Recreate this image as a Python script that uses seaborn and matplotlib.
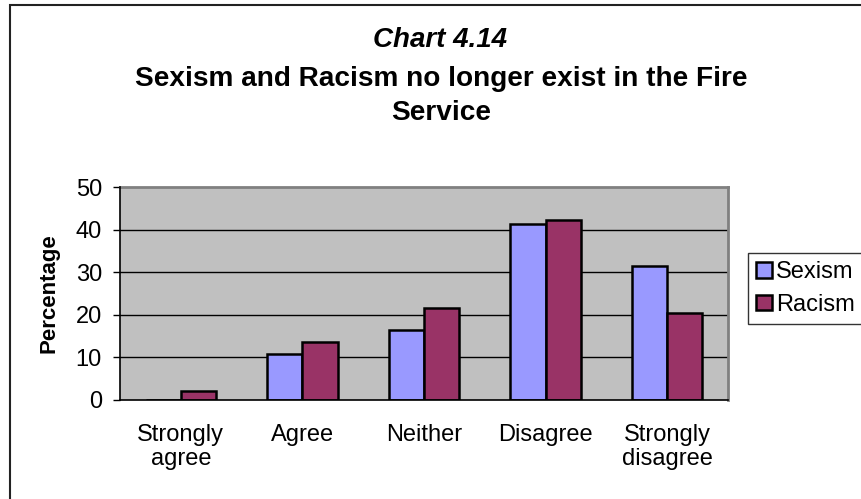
import matplotlib
matplotlib.use("Agg")
import matplotlib.pyplot as plt
import seaborn as sns
import pandas as pd
from matplotlib.patches import Rectangle, Patch

# Survey responses (percentage of respondents)
categories = ["Strongly\nagree", "Agree", "Neither", "Disagree", "Strongly\ndisagree"]
sexism = [0.0, 10.7, 16.5, 41.3, 31.4]
racism = [2.0, 13.6, 21.6, 42.3, 20.5]
series_names = ["Sexism", "Racism"]
series_colors = ["#9999FF", "#993366"]
y_ticks = [0, 10, 20, 30, 40, 50]

df = pd.DataFrame({
    "Response": categories * 2,
    "Percentage": sexism + racism,
    "Series": [series_names[0]] * len(categories) + [series_names[1]] * len(categories),
})

sns.set_theme(style="white")
plt.rcParams["font.family"] = ["Liberation Sans", "DejaVu Sans"]
plt.rcParams.update({"text.color": "black", "axes.labelcolor": "black",
                     "xtick.color": "black", "ytick.color": "black"})

W, H = 862, 499
fig = plt.figure(figsize=(W / 100, H / 100), dpi=100)
fig.patch.set_facecolor("white")

# outer chart frame
fig.patches.append(Rectangle((10 / W, -0.1), 1.2, 1.1 - 5 / H, transform=fig.transFigure,
                             fill=False, edgecolor="#222222", linewidth=1.5))

left, right, bottom, top = 120 / W, 728 / W, 1 - 400 / H, 1 - 187 / H
ax = fig.add_axes([left, bottom, right - left, top - bottom])
ax.set_facecolor("#C0C0C0")

sns.barplot(data=df, x="Response", y="Percentage", hue="Series",
            palette=series_colors, width=0.58, gap=0, edgecolor="black",
            linewidth=1.8, saturation=1, ax=ax, legend=False, zorder=3)

ax.set_ylim(0, 50)
ax.set_xlim(-0.5, len(categories) - 0.5)
ax.set_yticks(y_ticks)
ax.set_yticklabels([str(v) for v in y_ticks], fontsize=17)
for v in y_ticks[1:-1]:
    ax.axhline(v, color="black", linewidth=1.0, zorder=1)

# category labels centred, tick marks on the boundaries
ax.set_xticks(range(len(categories)))
ax.set_xticklabels(categories, fontsize=17, linespacing=1.15)
ax.tick_params(axis="x", which="major", length=0, pad=17)
ax.set_xticks([i - 0.5 for i in range(len(categories) + 1)], minor=True)
ax.tick_params(axis="x", which="minor", length=6, width=1.0, color="black", direction="out")
ax.tick_params(axis="y", length=5, width=1.0, color="black", direction="out", pad=8, left=True)

ax.set_xlabel("")
ax.set_ylabel("Percentage", fontsize=16, fontweight="bold", labelpad=12)

for side in ["left", "bottom"]:
    ax.spines[side].set_color("black")
    ax.spines[side].set_linewidth(1.2)
    ax.spines[side].set_zorder(4)
for side in ["top", "right"]:
    ax.spines[side].set_color("#808080")
    ax.spines[side].set_linewidth(2.0)
    ax.spines[side].set_visible(True)

# title
fig.text(440 / W, 1 - 40 / H, "Chart 4.14", ha="center", va="center",
         fontsize=20, fontweight="bold", fontstyle="italic")
fig.text(441 / W, 1 - 96 / H, "Sexism and Racism no longer exist in the Fire\nService",
         ha="center", va="center", fontsize=20.2, fontweight="bold", linespacing=1.35)

handles = [Patch(facecolor=c, edgecolor="black", linewidth=1.8) for c in series_colors]
leg = fig.legend(handles, series_names, loc="upper left", bbox_to_anchor=(748 / W, 1 - 253 / H),
                 fontsize=17, frameon=True, fancybox=False, edgecolor="black",
                 handlelength=0.65, handleheight=0.65, handletextpad=0.2,
                 borderpad=0.35, labelspacing=0.45, borderaxespad=0)
leg.get_frame().set_linewidth(1.0)

fig.savefig("out.png", dpi=100, facecolor="white")
